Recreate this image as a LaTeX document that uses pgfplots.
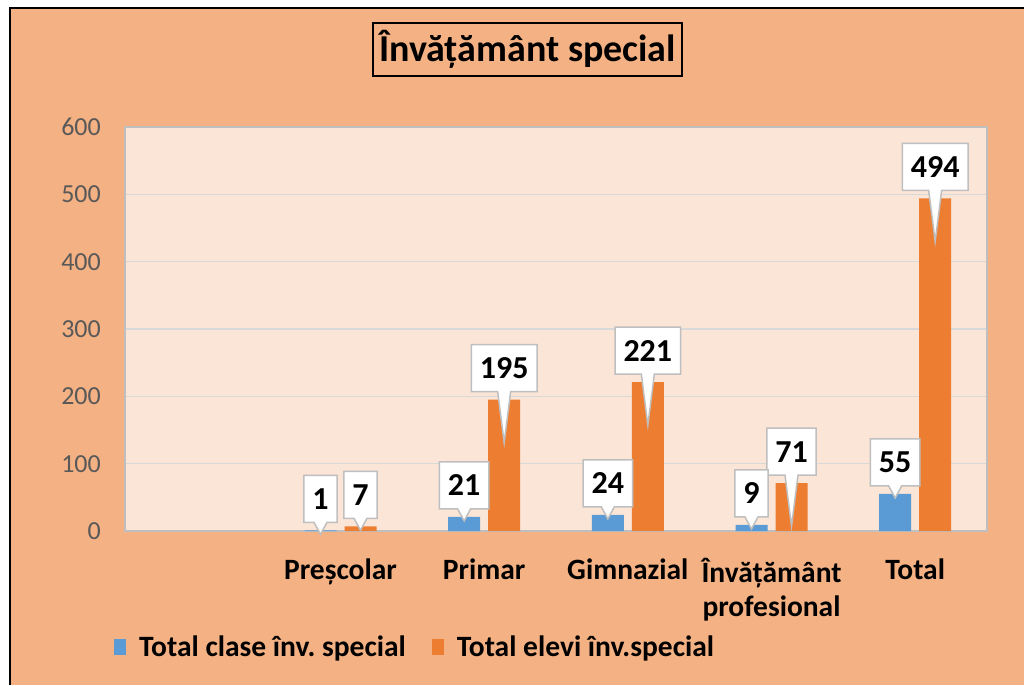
\documentclass[border=0pt]{standalone}
\usepackage{pgfplots}
\pgfplotsset{compat=1.18}
\usepackage{fontspec}
\setmainfont{Carlito}
\usetikzlibrary{shapes.callouts}
\definecolor{outerbg}{HTML}{F4B183}
\definecolor{plotbg}{HTML}{FBE5D6}
\definecolor{cblue}{HTML}{5B9BD5}
\definecolor{corange}{HTML}{ED7D31}
\definecolor{gridc}{HTML}{D9D9D9}
\definecolor{framec}{HTML}{BFBFBF}
\definecolor{tickc}{HTML}{595959}

\pgfplotsset{
 lbl/.style={nodes near coords,
  every node near coord/.append style={shape=rectangle callout, fill=white, draw=framec,
   line width=1.5pt, font=\fontsize{32}{38}\selectfont\bfseries, text=black,
   anchor=center, yshift=31.5pt, minimum height=47pt, inner xsep=8.5pt, inner ysep=0pt,
   callout relative pointer={(0pt,-#1)}, callout pointer width=13pt}},
}

\begin{document}
\begin{tikzpicture}[x=1pt,y=1pt]
\useasboundingbox (0,0) rectangle (1024,685);
\fill[white] (0,0) rectangle (1024,685);
\fill[outerbg] (10,0) rectangle (1024,677);
\draw[black, line width=2pt] (10,0) -- (10,677) -- (1024,677);
\begin{axis}[
 at={(125pt,154pt)}, anchor=south west,
 scale only axis, width=862pt, height=404pt,
 xmin=-0.5, xmax=5.5, ymin=0, ymax=600,
 ybar, bar width=32pt,
 xtick={0,...,5},
 xticklabels={{},Preșcolar,Primar,Gimnazial,{Învățământ\\profesional},Total},
 ytick={0,100,...,600},
 ymajorgrids, grid style={gridc, line width=1.5pt},
 major tick length=0pt,
 axis line style={framec, line width=1.5pt},
 axis background/.style={fill=plotbg},
 /pgf/number format/assume math mode=true,
 yticklabel style={font=\fontsize{26}{30}\selectfont, text=tickc, inner sep=0pt, xshift=-24pt},
 xticklabel style={font=\fontsize{29.5}{34}\selectfont\bfseries, align=center, text=black, yshift=-24pt},
 every axis title/.style={at={(axis description cs:0.467,1)}, anchor=south, yshift=50pt,
   draw=black, line width=1.5pt, minimum width=309pt, minimum height=53pt, inner sep=0pt,
   font=\fontsize{38}{44}\selectfont\bfseries},
 title={Învățământ special},
 legend style={draw=none, fill=none, at={(axis description cs:-0.0128,-0.287)}, anchor=west,
   font=\fontsize{29.5}{34}\selectfont\bfseries, inner sep=0pt,
   /tikz/every odd column/.append style={column sep=11pt},
   /tikz/every even column/.append style={column sep=24pt}},
 legend columns=2,
 legend image code/.code={\fill[#1, draw=none] (0pt,-8pt) rectangle (12pt,8pt);},
]
\addlegendimage{fill=cblue}
\addlegendimage{fill=corange}
% orange bars: Total elevi inv. special
\addplot[fill=corange, draw=none, bar shift=20pt, forget plot]
  coordinates {(1,7) (2,195) (3,221) (4,71) (5,494)};
% orange labels (short and long pointers)
\addplot[draw=none, fill=none, bar shift=20pt, forget plot, lbl=12pt]
  coordinates {(1,7)};
\addplot[draw=none, fill=none, bar shift=20pt, forget plot, lbl=51pt]
  coordinates {(2,195) (3,221) (4,71) (5,494)};
% blue bars: Total clase inv. special
\addplot[fill=cblue, draw=none, bar shift=-20pt, forget plot, lbl=12pt]
  coordinates {(1,1) (2,21) (3,24) (4,9) (5,55)};
\legend{Total clase înv.\ special, Total elevi înv.special}
\end{axis}
\end{tikzpicture}
\end{document}
